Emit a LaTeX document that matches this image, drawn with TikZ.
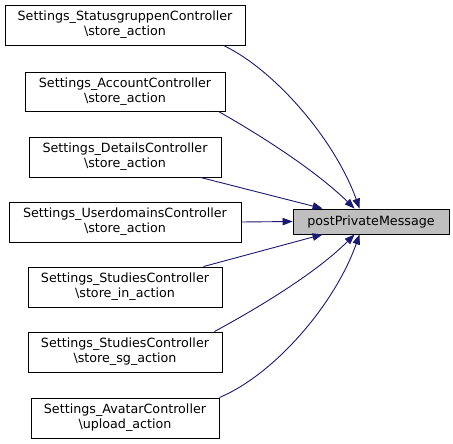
\documentclass[tikz,border=0pt]{standalone}
\usepackage{fontspec}
\setmainfont{DejaVu Sans}
\usetikzlibrary{arrows.meta}
\definecolor{edgeblue}{HTML}{191970}
\definecolor{nodegray}{HTML}{BFBFBF}
\begin{document}
\begin{tikzpicture}[x=1pt,y=-1pt,
  box/.style={draw=black,line width=0.9pt,fill=white,inner sep=0pt,align=center,
    minimum height=40pt,font=\fontsize{12.7}{15}\selectfont},
  target/.style={draw=black,line width=0.9pt,fill=nodegray,inner sep=0pt,align=center,
    minimum width=156pt,minimum height=25pt,font=\fontsize{12.7}{15}\selectfont},
  edge/.style={draw=edgeblue,line width=0.9pt,-{Triangle[length=10pt,width=7.5pt]}}]
\useasboundingbox (0,0) rectangle (453,444);
\node[box,minimum width=240pt] (s1) at (125,25) {Settings\_StatusgruppenController\\\textbackslash store\_action};
\node[box,minimum width=200pt,minimum height=39pt] (s2) at (125,91.5) {Settings\_AccountController\\\textbackslash store\_action};
\node[box,minimum width=192pt] (s3) at (125,157) {Settings\_DetailsController\\\textbackslash store\_action};
\node[box,minimum width=232pt] (s4) at (125,222) {Settings\_UserdomainsController\\\textbackslash store\_action};
\node[box,minimum width=194pt] (s5) at (125,287) {Settings\_StudiesController\\\textbackslash store\_in\_action};
\node[box,minimum width=194pt] (s6) at (125,352) {Settings\_StudiesController\\\textbackslash store\_sg\_action};
\node[box,minimum width=188pt] (s7) at (125,418) {Settings\_AvatarController\\\textbackslash upload\_action};
\node[target] (t) at (371,221.5) {postPrivateMessage};
\draw[edge] ([xshift=-22pt]s1.south east) .. controls (275,70) and (335,140) .. ([xshift=67pt]t.north west);
\draw[edge] ([xshift=-7pt]s2.south east) .. controls (260,135) and (315,170) .. ([xshift=62pt]t.north west);
\draw[edge] ([xshift=-21pt]s3.south east) -- ([xshift=30pt]t.north west);
\draw[edge] (s4.east) -- (t.west);
\draw[edge] ([xshift=-19pt]s5.north east) -- ([xshift=30pt]t.south west);
\draw[edge] ([xshift=-8pt]s6.north east) .. controls (256,309) and (315,274) .. ([xshift=62pt]t.south west);
\draw[edge] (s7.north east) .. controls (275,374) and (335,304) .. ([xshift=67pt]t.south west);
\end{tikzpicture}
\end{document}
